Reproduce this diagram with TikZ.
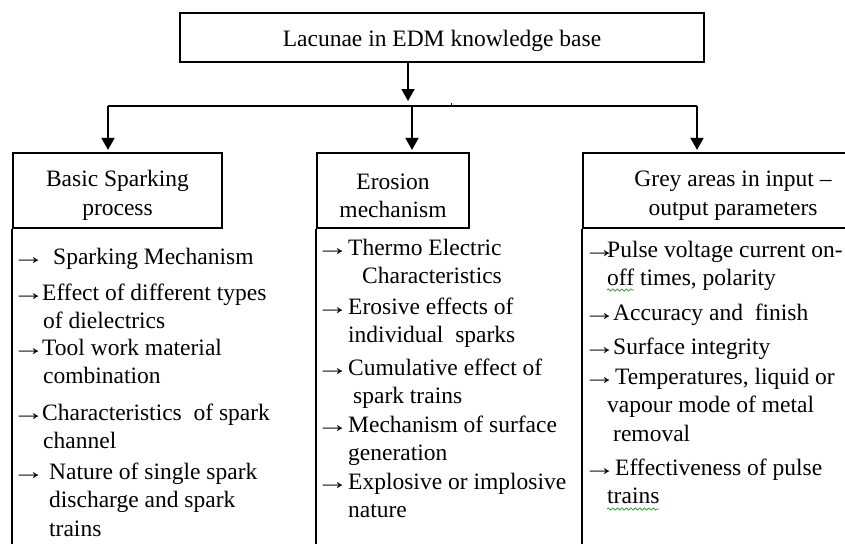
\documentclass[tikz,border=0pt]{standalone}
\usepackage{fontspec}
\usepackage{graphicx}
\setmainfont{Liberation Serif}
\usetikzlibrary{arrows.meta,decorations.pathmorphing}

\newcommand{\itm}[2]{\makebox[#1pt][l]{\scalebox{1.4}[1]{→}}#2}

\begin{document}
\begin{tikzpicture}[x=1pt,y=1pt,yscale=-1,xscale=1,
  every node/.style={font=\fontsize{23.5}{28.5}\selectfont},
  hdr/.style={draw,line width=2.2pt,minimum height=75pt,inner sep=0pt,align=center},
  itm/.style={anchor=base west,inner sep=0pt,align=left},
  link/.style={line width=1.8pt,-{Triangle[length=12pt,width=13pt]}},
  lane/.style={line width=1.4pt},
  spell/.style={draw={rgb,255:red,70;green,160;blue,70},line width=0.8pt,decorate,
    decoration={snake,amplitude=1.1pt,segment length=4.5pt}}]
\useasboundingbox (0,0) rectangle (845,543);
\clip (0,0) rectangle (845,543);

%Shape: title box
\node[draw,line width=2.2pt,minimum width=524pt,minimum height=49pt,inner sep=0pt] (title) at (442,37.5) {\rule{0pt}{24pt}Lacunae in EDM knowledge base};

%Shape: header boxes
\node[hdr,minimum width=209pt] (basic) at (117.5,190.5) {\rule{0pt}{26pt}Basic Sparking\\process};
\node[hdr,minimum width=152pt] (erosion) at (393,190.5) {\rule{0pt}{26pt}Erosion\\mechanism};
\node[hdr,minimum width=300pt] (grey) at (733,190.5) {\rule{0pt}{26pt}Grey areas in input –\\output parameters};

%Straight Lines: fork
\coordinate (fork) at (408,101);
\coordinate (busL) at (108,106);
\coordinate (busM) at (412,106);
\coordinate (busR) at (697,106);
\draw[link] (title.south -| fork) -- (fork);
\draw[line width=1.8pt] (busL) -- (busR);
\draw[line width=1pt] (451,102.5) -- (451,105);
\draw[link,shorten >=2pt] (busL) -- (busL |- basic.north);
\draw[link,shorten >=2pt] (busM) -- (busM |- erosion.north);
\draw[link,shorten >=2pt] (busR) -- (busR |- grey.north);

%Straight Lines: column rules
\draw[lane] (basic.south west) -- ++(0,320);
\draw[lane] (erosion.south west) -- ++(0,320);
\draw[lane] (grey.south west) -- ++(0,320);

% Text Node: basic sparking process (placed at baseline of last line)
\node[itm] (spmech) at (12,264) {\itm{41}{Sparking Mechanism}};
\node[itm] (dielec) at (12,328.5) {\itm{30}{Effect of different types}\\\hspace*{31pt}of dielectrics};
\node[itm] (toolwork) at (12,383.5) {\itm{30}{Tool work material}\\\hspace*{31pt}combination};
\node[itm] (channel) at (12,448.5) {\itm{30}{Characteristics\ \ of spark}\\\hspace*{31pt}channel};
\node[itm] (single) at (12,536) {\itm{37}{Nature of single spark}\\\hspace*{37pt}discharge and spark\\\hspace*{37pt}trains};

% Text Node: erosion mechanism
\node[itm] (thermo) at (316,283.5) {\itm{32}{Thermo Electric}\\\hspace*{46pt}Characteristics};
\node[itm] (erosive) at (316,342.5) {\itm{32}{Erosive effects of}\\\hspace*{32pt}individual\ \ sparks};
\node[itm] (cumul) at (316,403.5) {\itm{32}{Cumulative effect of}\\\hspace*{37pt}spark trains};
\node[itm] (surfgen) at (316,460.5) {\itm{32}{Mechanism of surface}\\\hspace*{32pt}generation};
\node[itm] (explo) at (316,517.5) {\itm{32}{Explosive or implosive}\\\hspace*{32pt}nature};

% Text Node: grey areas
\node[itm] (pulse) at (583,285.5) {\itm{24}{Pulse voltage current on-}\\\hspace*{24pt}off times, polarity};
\node[itm] (accur) at (583,320) {\itm{30}{Accuracy and\ \ finish}};
\node[itm] (integ) at (583,354) {\itm{30}{Surface integrity}};
\node[itm] (temper) at (583,441) {\itm{32}{Temperatures, liquid or}\\\hspace*{24pt}vapour mode of metal\\\hspace*{30pt}removal};
\node[itm] (pulsetr) at (583,503.5) {\itm{32}{Effectiveness of pulse}\\\hspace*{24pt}trains};

% spelling marks
\draw[spell] (607,290) -- (634,290);
\draw[spell] (607,509) -- (659,509);

\end{tikzpicture}
\end{document}
